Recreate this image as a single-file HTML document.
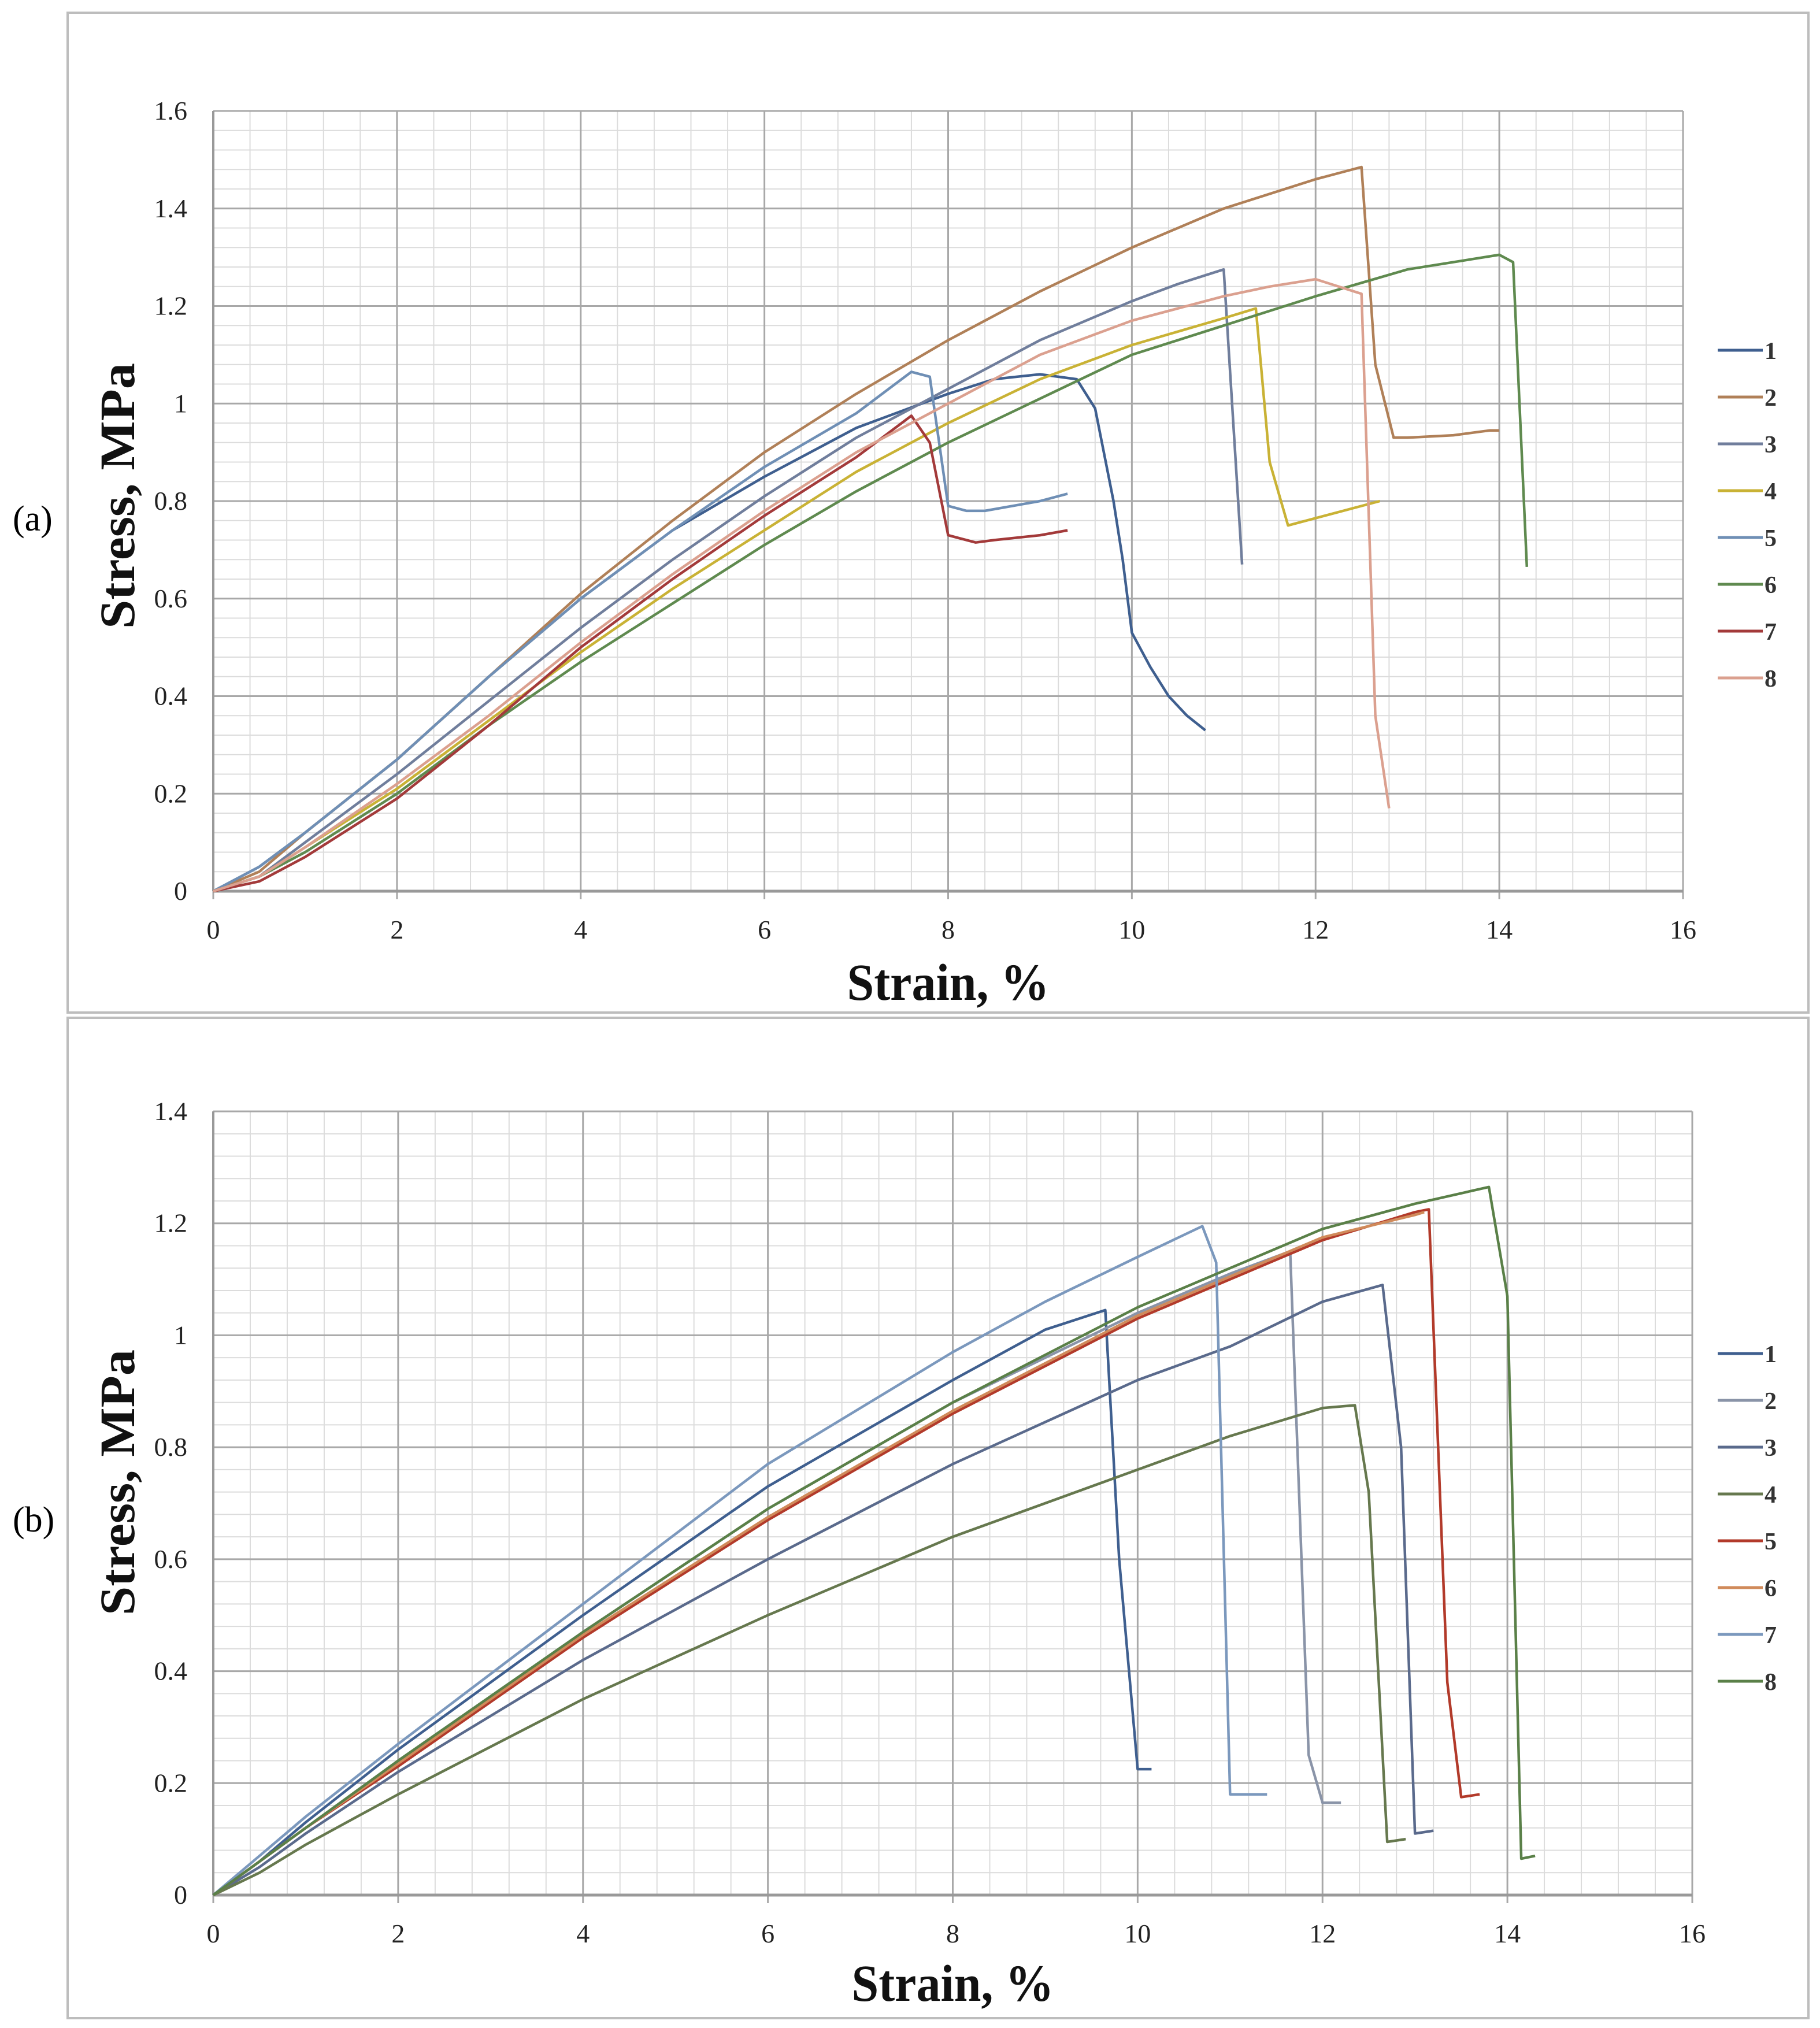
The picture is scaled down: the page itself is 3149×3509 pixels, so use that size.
<!DOCTYPE html>
<html><head><meta charset="utf-8"><style>
html,body{margin:0;padding:0;background:#fff;}
svg{display:block;font-family:"Liberation Serif",serif;}
</style></head><body>
<svg id="fig" width="3149" height="3509" viewBox="0 0 3149 3509" xmlns="http://www.w3.org/2000/svg">
<rect x="0" y="0" width="3149" height="3509" fill="#fff"/>
<rect x="117" y="22" width="3012" height="1730" fill="none" stroke="#bdbdbd" stroke-width="4"/>
<rect x="117" y="1761" width="3012" height="1731" fill="none" stroke="#bdbdbd" stroke-width="4"/>
<text x="22" y="918" font-size="62">(a)</text>
<text x="22" y="2650" font-size="62">(b)</text>
<g id="chartA"></g>
<g id="chartB"></g>
</svg>
<script>
// ---- chart A data ----
const aXTicks = [0,2,4,6,8,10,12,14,16];
const aYTicks = [0,0.2,0.4,0.6,0.8,1,1.2,1.4,1.6];
const aYLabels = ["0","0.2","0.4","0.6","0.8","1","1.2","1.4","1.6"];
const aNames = ["1","2","3","4","5","6","7","8"];
const aColors = ["#3f5f8f","#b08058","#707e9c","#c9b235","#6f8fb5","#5f8a4f","#a33a3a","#dba08f"];
const aS1x = [0,0.5,1,2,3,4,5,6,7,8,8.5,9,9.4,9.6,9.8,9.9,10,10.2,10.4,10.6,10.8];
const aS1y = [0,0.05,0.12,0.27,0.44,0.6,0.74,0.85,0.95,1.02,1.05,1.06,1.05,0.99,0.8,0.68,0.53,0.46,0.4,0.36,0.33];
const aS2x = [0,0.5,1,2,3,4,5,6,7,8,9,10,11,12,12.5,12.65,12.85,13,13.5,13.9,14];
const aS2y = [0,0.04,0.12,0.27,0.44,0.61,0.76,0.9,1.02,1.13,1.23,1.32,1.4,1.46,1.485,1.08,0.93,0.93,0.935,0.945,0.945];
const aS3x = [0,0.5,1,2,3,4,5,6,7,8,9,10,10.5,11,11.2];
const aS3y = [0,0.03,0.1,0.24,0.39,0.54,0.68,0.81,0.93,1.03,1.13,1.21,1.245,1.275,0.67];
const aS4x = [0,0.5,1,2,3,4,5,6,7,8,9,10,11,11.35,11.5,11.7,12.7];
const aS4y = [0,0.03,0.09,0.21,0.35,0.49,0.62,0.74,0.86,0.96,1.05,1.12,1.175,1.195,0.88,0.75,0.8];
const aS5x = [0,0.5,1,2,3,4,5,6,7,7.6,7.8,8,8.2,8.4,9,9.3];
const aS5y = [0,0.05,0.12,0.27,0.44,0.6,0.74,0.87,0.98,1.065,1.055,0.79,0.78,0.78,0.8,0.815];
const aS6x = [0,0.5,1,2,3,4,5,6,7,8,9,10,11,12,13,14,14.15,14.3];
const aS6y = [0,0.03,0.08,0.2,0.34,0.47,0.59,0.71,0.82,0.92,1.01,1.1,1.16,1.22,1.275,1.305,1.29,0.665];
const aS7x = [0,0.5,1,2,3,4,5,6,7,7.6,7.8,8,8.3,8.5,9,9.3];
const aS7y = [0,0.02,0.07,0.19,0.34,0.5,0.64,0.77,0.89,0.975,0.92,0.73,0.715,0.72,0.73,0.74];
const aS8x = [0,0.5,1,2,3,4,5,6,7,8,9,10,11,11.5,12,12.5,12.65,12.8];
const aS8y = [0,0.03,0.09,0.22,0.36,0.51,0.65,0.78,0.9,1.0,1.1,1.17,1.22,1.24,1.255,1.225,0.36,0.17];
// ---- chart B data ----
const bXTicks = [0,2,4,6,8,10,12,14,16];
const bYTicks = [0,0.2,0.4,0.6,0.8,1,1.2,1.4];
const bYLabels = ["0","0.2","0.4","0.6","0.8","1","1.2","1.4"];
const bNames = ["1","2","3","4","5","6","7","8"];
const bColors = ["#3f5f8f","#8a94a8","#5a6a8c","#66784e","#b23a2a","#d08a5a","#7b98bd","#5a8048"];
const bS1x = [0,0.5,1,2,4,6,8,9,9.65,9.8,10,10.15];
const bS1y = [0,0.06,0.13,0.26,0.5,0.73,0.92,1.01,1.045,0.6,0.225,0.225];
const bS2x = [0,0.5,1,2,4,6,8,10,11,11.65,11.85,12,12.2];
const bS2y = [0,0.06,0.12,0.24,0.47,0.69,0.88,1.04,1.11,1.15,0.25,0.165,0.165];
const bS3x = [0,0.5,1,2,4,6,8,10,11,12,12.65,12.85,13,13.2];
const bS3y = [0,0.05,0.11,0.22,0.42,0.6,0.77,0.92,0.98,1.06,1.09,0.8,0.11,0.115];
const bS4x = [0,0.5,1,2,4,6,8,10,11,12,12.35,12.5,12.7,12.9];
const bS4y = [0,0.04,0.09,0.18,0.35,0.5,0.64,0.76,0.82,0.87,0.875,0.72,0.095,0.1];
const bS5x = [0,0.5,1,2,4,6,8,10,11,12,13,13.15,13.35,13.5,13.7];
const bS5y = [0,0.06,0.12,0.23,0.46,0.67,0.86,1.03,1.1,1.17,1.22,1.225,0.38,0.175,0.18];
const bS6x = [0,0.5,1,2,4,6,8,10,11,12,13,13.1];
const bS6y = [0,0.06,0.12,0.235,0.465,0.675,0.865,1.035,1.105,1.175,1.215,1.22];
const bS7x = [0,0.5,1,2,4,6,8,9,10,10.7,10.85,11,11.4];
const bS7y = [0,0.07,0.14,0.27,0.52,0.77,0.97,1.06,1.14,1.195,1.13,0.18,0.18];
const bS8x = [0,0.5,1,2,4,6,8,10,11,12,13,13.8,14,14.15,14.3];
const bS8y = [0,0.06,0.12,0.24,0.47,0.69,0.88,1.05,1.12,1.19,1.235,1.265,1.07,0.065,0.07];

const NS = "http://www.w3.org/2000/svg";
function mk(parent, tag, attrs){const e=document.createElementNS(NS,tag);for(const k in attrs)e.setAttribute(k,attrs[k]);parent.appendChild(e);return e;}

function drawChart(g, o){
  const sx = v => o.x0 + (v - 0) / 16 * (o.x1 - o.x0);
  const sy = v => o.y0 - v / o.ymax * (o.y0 - o.y1);
  const grid = mk(g,'g',{});
  
  
  for(let v=0; v<=16.001; v+=0.4){
    mk(grid,'line',{x1:sx(v),x2:sx(v),y1:o.y1,y2:o.y0,stroke:'#dcdcdc','stroke-width':2});
  }
  const nY = Math.round(o.ymax/0.04);
  for(let i=0;i<=nY;i++){const v=i*0.04;
    mk(grid,'line',{x1:o.x0,x2:o.x1,y1:sy(v),y2:sy(v),stroke:'#dcdcdc','stroke-width':2});
  }
  o.xt.forEach(v=>{mk(grid,'line',{x1:sx(v),x2:sx(v),y1:o.y1,y2:o.y0+14,stroke:'#a8a8a8','stroke-width':3});});
  o.yt.forEach(v=>{mk(grid,'line',{x1:o.x0,x2:o.x1,y1:sy(v),y2:sy(v),stroke:'#a8a8a8','stroke-width':3});});
  const ax = mk(g,'line',{x1:o.x0,x2:o.x1,y1:o.y0,y2:o.y0,stroke:'#999','stroke-width':5});
  
  
  const ay = mk(g,'line',{x1:o.x0,x2:o.x0,y1:o.y1,y2:o.y0,stroke:'#999','stroke-width':4});
  
  
  o.xt.forEach(v=>{const t=mk(g,'text',{x:sx(v),y:o.y0+82,'font-size':46,'text-anchor':'middle',fill:'#222'});t.textContent=String(v);
    
    });
  o.yt.forEach((v,i)=>{const t=mk(g,'text',{x:o.x0-45,y:sy(v)+15,'font-size':46,'text-anchor':'end',fill:'#222'});t.textContent=o.yl[i];
    
    });
  o.series.forEach((s,i)=>{
    const d = s[0].map((x,j)=>(j?'L':'M')+sx(x).toFixed(1)+' '+sy(s[1][j]).toFixed(1)).join(' ');
    const p = mk(g,'path',{d:d,fill:'none',stroke:o.colors[i],'stroke-width':4.5,'stroke-linejoin':'round'});
    
    
  });
  o.names.forEach((n,i)=>{
    const y = o.ly + i*81;
    const l = mk(g,'line',{x1:2972,x2:3050,y1:y,y2:y,stroke:o.colors[i],'stroke-width':5});
    
    
    const t = mk(g,'text',{x:3053,y:y+15,'font-size':42,'font-weight':'bold',fill:'#333'});
    t.textContent = n;
    
    
  });
  const xt = mk(g,'text',{x:(o.x0+o.x1)/2,y:o.xtY,'font-size':90,'font-weight':'bold','text-anchor':'middle',fill:'#111',textLength:350,lengthAdjust:'spacingAndGlyphs'});
  xt.textContent='Strain, %';
  
  
  const yt = mk(g,'text',{x:0,y:0,'font-size':86,'font-weight':'bold','text-anchor':'middle',fill:'#111',textLength:460,lengthAdjust:'spacingAndGlyphs',transform:`translate(232 ${o.ytY}) rotate(-90)`});
  yt.textContent='Stress, MPa';
  
  
}

drawChart(document.getElementById('chartA'),{x0:369,x1:2912,y0:1542,y1:192,ymax:1.6,xt:aXTicks,yt:aYTicks,yl:aYLabels,
  names:aNames,colors:aColors,ly:606,xtY:1730,ytY:858,
  series:[[aS1x,aS1y],[aS2x,aS2y],[aS3x,aS3y],[aS4x,aS4y],[aS5x,aS5y],[aS6x,aS6y],[aS7x,aS7y],[aS8x,aS8y]]});
drawChart(document.getElementById('chartB'),{x0:369,x1:2928,y0:3279,y1:1923,ymax:1.4,xt:bXTicks,yt:bYTicks,yl:bYLabels,
  names:bNames,colors:bColors,ly:2342,xtY:3462,ytY:2565,
  series:[[bS1x,bS1y],[bS2x,bS2y],[bS3x,bS3y],[bS4x,bS4y],[bS5x,bS5y],[bS6x,bS6y],[bS7x,bS7y],[bS8x,bS8y]]});
</script>
</body></html>
